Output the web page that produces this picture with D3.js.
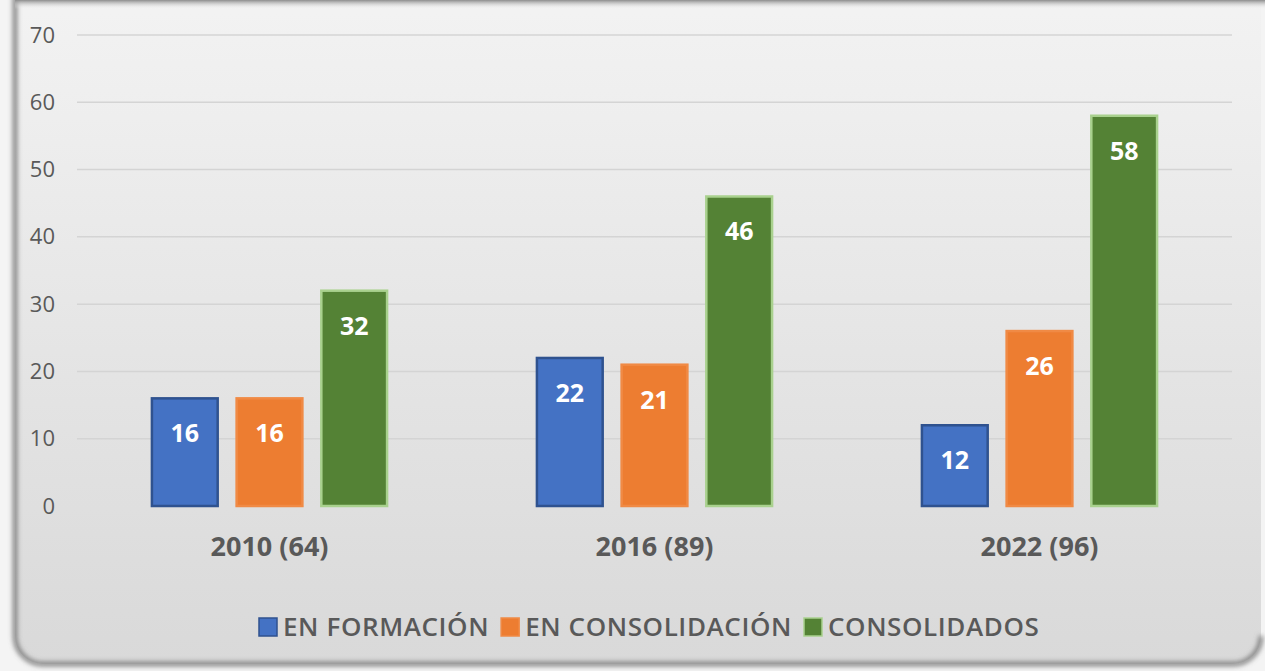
<!DOCTYPE html>
<html lang="es">
<head>
<meta charset="utf-8">
<title>Grupos por nivel</title>
<script src="https://cdn.jsdelivr.net/npm/d3@7"></script>
<style>
  body { margin: 0; background: #f4f4f4; }
  .tick text { font-family: "Open Sans", sans-serif; }
</style>
</head>
<body>
<script>
// data
var categories = ["2010 (64)", "2016 (89)", "2022 (96)"];
var seriesNames = ["EN FORMACIÓN", "EN CONSOLIDACIÓN", "CONSOLIDADOS"];
var enFormacion = [16, 22, 12];
var enConsolidacion = [16, 21, 26];
var consolidados = [32, 46, 58];
var yTicks = [0, 10, 20, 30, 40, 50, 60, 70];

var fills = ["#4472c4", "#ed7d31", "#548235"];
var strokes = ["#2f528f", "#f08a45", "#a9d18e"];

var w = 1265, h = 671;
var mLeft = 77, mRight = 1232, mTop = 35, mBottom = 506;

var svg = d3.select("body").append("svg")
  .attr("width", w).attr("height", h);

var defs = svg.append("defs");
var grad = defs.append("linearGradient").attr("id", "bg")
  .attr("x1", 0).attr("y1", 0).attr("x2", 0).attr("y2", 1);
grad.append("stop").attr("offset", "0%").attr("stop-color", "#f4f4f4");
grad.append("stop").attr("offset", "100%").attr("stop-color", "#d9d9d9");
var topShade = defs.append("linearGradient").attr("id", "topShade")
  .attr("x1", 0).attr("y1", 0).attr("x2", 0).attr("y2", 1);
topShade.append("stop").attr("offset", "0%").attr("stop-color", "#8c8c8c");
topShade.append("stop").attr("offset", "100%").attr("stop-color", "#f4f4f4").attr("stop-opacity", 0);
defs.append("filter").attr("id", "blur")
  .attr("x", "-5%").attr("y", "-5%").attr("width", "110%").attr("height", "110%")
  .append("feGaussianBlur").attr("stdDeviation", 2.5);

// panel
var px0 = 15, px1 = 1261, py1 = 664, r = 28;
svg.append("rect").attr("width", w).attr("height", h).attr("fill", "#f4f4f4");
svg.append("rect")
  .attr("x", px0).attr("y", -40).attr("width", px1 - px0).attr("height", py1 + 40)
  .attr("rx", r).attr("fill", "url(#bg)");
// shaded left and bottom edges
var edge = d3.path();
edge.moveTo(px0, -10);
edge.lineTo(px0, py1 - r);
edge.arcTo(px0, py1, px0 + r, py1, r);
edge.lineTo(px1 - r, py1);
edge.arcTo(px1, py1, px1, py1 - r, r);
svg.append("path").attr("d", edge.toString())
  .attr("fill", "none").attr("stroke", "#6f6f6f").attr("stroke-width", 4)
  .attr("filter", "url(#blur)");
svg.append("line")
  .attr("x1", px1).attr("x2", px1).attr("y1", 0).attr("y2", py1 - r)
  .attr("stroke", "#c8c8c8").attr("stroke-width", 2).attr("filter", "url(#blur)");
svg.append("rect")
  .attr("x", px0).attr("y", 0).attr("width", w - px0).attr("height", 9)
  .attr("fill", "url(#topShade)");

// scales
var x0 = d3.scaleBand().domain(categories).range([mLeft, mRight])
  .paddingInner(0.384).paddingOuter(0.192);
var x1 = d3.scaleBand().domain(seriesNames).range([0, x0.bandwidth()])
  .paddingInner(0.2).paddingOuter(0);
var y = d3.scaleLinear().domain([0, 70]).range([mBottom, mTop]);

// grid
svg.append("g").selectAll("line").data(yTicks.slice(1)).join("line")
  .attr("x1", mLeft).attr("x2", mRight)
  .attr("y1", d => y(d)).attr("y2", d => y(d))
  .attr("stroke", "#d4d4d4").attr("stroke-width", 1.5);

// y axis
var yAxis = svg.append("g")
  .attr("transform", "translate(" + (mLeft - 22) + ",0)")
  .call(d3.axisLeft(y).tickValues(yTicks).tickSize(0).tickPadding(0));
yAxis.select(".domain").remove();
yAxis.selectAll("text").attr("fill", "#595959").attr("font-size", 22);

// x axis labels
var xAxis = svg.append("g")
  .attr("transform", "translate(0," + mBottom + ")")
  .call(d3.axisBottom(x0).tickSize(0).tickPadding(31));
xAxis.select(".domain").remove();
xAxis.selectAll("text").attr("fill", "#595959").attr("font-size", 27)
  .attr("font-weight", "bold");

// bars
var rows = categories.map(function(c, i) {
  return { cat: c, vals: [enFormacion[i], enConsolidacion[i], consolidados[i]] };
});

var groups = svg.append("g").selectAll("g").data(rows).join("g")
  .attr("transform", d => "translate(" + x0(d.cat) + ",0)");

groups.selectAll("rect").data(d => d.vals.map((v, j) => ({ s: seriesNames[j], v: v, j: j })))
  .join("rect")
  .attr("x", d => x1(d.s) + 1)
  .attr("width", x1.bandwidth() - 2)
  .attr("y", d => y(d.v))
  .attr("height", d => mBottom - y(d.v))
  .attr("fill", d => fills[d.j])
  .attr("stroke", d => strokes[d.j])
  .attr("stroke-width", 2.5);

groups.selectAll("text.lbl").data(d => d.vals.map((v, j) => ({ s: seriesNames[j], v: v, j: j })))
  .join("text")
  .attr("class", "lbl")
  .attr("x", d => x1(d.s) + x1.bandwidth() / 2)
  .attr("y", d => Math.min(y(d.v) + 35, (y(d.v) + mBottom) / 2 + 2) + 9)
  .attr("text-anchor", "middle")
  .attr("fill", "#ffffff")
  .attr("font-family", "'Open Sans', sans-serif")
  .attr("font-weight", "bold")
  .attr("font-size", 25)
  .text(d => d.v);

// legend
var legend = svg.append("g").attr("transform", "translate(259,627)");
var lx = 0;
seriesNames.forEach(function(name, j) {
  var g = legend.append("g").attr("transform", "translate(" + lx + ",0)");
  g.append("rect").attr("x", 0).attr("y", -9).attr("width", 18).attr("height", 18)
    .attr("fill", fills[j]).attr("stroke", strokes[j]).attr("stroke-width", 1.5);
  var t = g.append("text").attr("x", 24).attr("y", 9)
    .attr("font-family", "'Open Sans', sans-serif")
    .attr("font-weight", "600")
    .attr("font-size", 26).attr("letter-spacing", 0.6).attr("fill", "#595959")
    .text(name);
  lx += 24 + t.node().getComputedTextLength() + 12;
});
</script>
</body>
</html>
